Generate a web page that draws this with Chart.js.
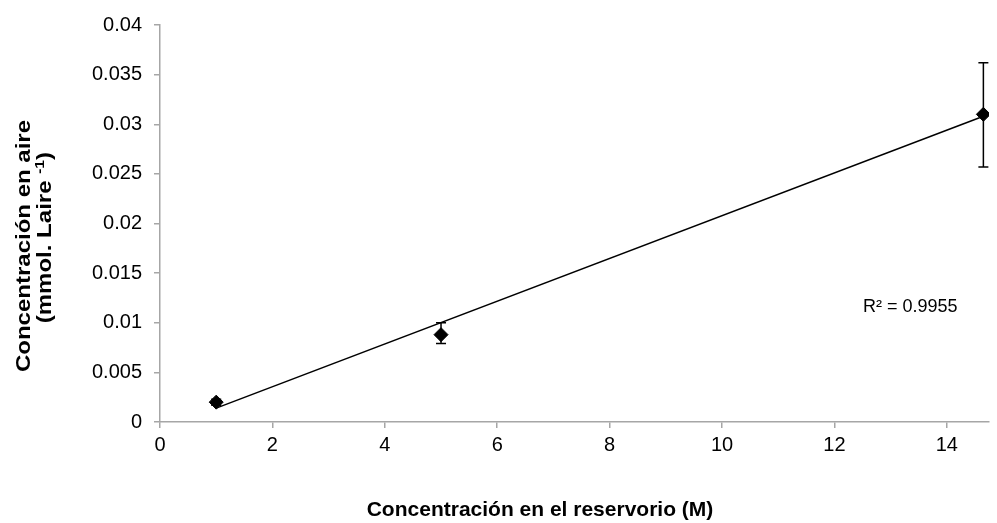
<!DOCTYPE html>
<html>
<head>
<meta charset="utf-8">
<script src="https://cdn.jsdelivr.net/npm/chart.js@4"></script>
<style>
  html, body { margin: 0; padding: 0; background: #fff; }
  #wrap { width: 997px; height: 523px; position: relative; }
</style>
</head>
<body>
<div id="wrap"><canvas id="chart"></canvas></div>
<script>
// Data
const reservoirConc = [1, 5, 14.65];          // M
const airConc = [0.0020, 0.0088, 0.0310];     // mmol. Laire-1
const errPlus = [0.0003, 0.0012, 0.0052];
const errMinus = [0.0003, 0.0009, 0.0053];
const trendX = [1, 14.65];
const trendY = [0.0014, 0.0308];
const rSquaredLabel = "R² = 0.9955";

const FONT = "'Liberation Sans', Arial, sans-serif";
const AXIS_GREY = "#a6a6a6";

// error bars + titles + R² text
const extrasPlugin = {
  id: "extras",
  afterDatasetsDraw(chart) {
    const ctx = chart.ctx;
    const xs = chart.scales.x, ys = chart.scales.y;
    ctx.save();
    ctx.strokeStyle = "#000";
    ctx.lineWidth = 1.5;
    reservoirConc.forEach((xv, i) => {
      const px = xs.getPixelForValue(xv);
      const top = ys.getPixelForValue(airConc[i] + errPlus[i]);
      const bot = ys.getPixelForValue(airConc[i] - errMinus[i]);
      ctx.beginPath();
      ctx.moveTo(px, top); ctx.lineTo(px, bot);
      ctx.moveTo(px - 5, top); ctx.lineTo(px + 5, top);
      ctx.moveTo(px - 5, bot); ctx.lineTo(px + 5, bot);
      ctx.stroke();
    });

    // R² label
    ctx.fillStyle = "#000";
    ctx.font = "18px " + FONT;
    ctx.textAlign = "left";
    ctx.textBaseline = "middle";
    ctx.fillText(rSquaredLabel, 863, 307);

    // x title
    ctx.font = "bold 21px " + FONT;
    ctx.textAlign = "center";
    ctx.textBaseline = "alphabetic";
    ctx.fillText("Concentración en el reservorio (M)", 540, 516);

    // y title (two lines, rotated, with superscript)
    ctx.save();
    ctx.translate(0, 246);
    ctx.rotate(-Math.PI / 2);
    ctx.scale(1.2, 1);
    ctx.font = "bold 20px " + FONT;
    ctx.textAlign = "center";
    ctx.fillText("Concentración en aire", 0, 30);
    const a = "(mmol. Laire ", sup = "-1", b = ")";
    const wa = ctx.measureText(a).width;
    const wb = ctx.measureText(b).width;
    ctx.font = "bold 13px " + FONT;
    const ws = ctx.measureText(sup).width;
    const total = wa + ws + wb;
    const x0 = -total / 2 + 7;
    ctx.textAlign = "left";
    ctx.font = "bold 20px " + FONT;
    ctx.fillText(a, x0, 51);
    ctx.font = "bold 13px " + FONT;
    ctx.fillText(sup, x0 + wa, 44);
    ctx.font = "bold 20px " + FONT;
    ctx.fillText(b, x0 + wa + ws, 51);
    ctx.restore();
    ctx.restore();
  }
};

const ctx = document.getElementById("chart").getContext("2d");
new Chart(ctx, {
  type: "scatter",
  data: {
    datasets: [
      {
        label: "trend",
        type: "line",
        data: trendX.map((x, i) => ({ x: x, y: trendY[i] })),
        borderColor: "#000",
        borderWidth: 1.5,
        pointRadius: 0,
        fill: false,
        order: 2
      },
      {
        label: "data",
        data: reservoirConc.map((x, i) => ({ x: x, y: airConc[i] })),
        pointStyle: "rectRot",
        pointRadius: 7,
        pointHoverRadius: 7,
        backgroundColor: "#000",
        borderColor: "#000",
        order: 1
      }
    ]
  },
  options: {
    responsive: true,
    maintainAspectRatio: false,
    animation: false,
    devicePixelRatio: 1,
    layout: { padding: { top: 25, right: 3, left: 0, bottom: 0 } },
    plugins: { legend: { display: false }, tooltip: { enabled: false } },
    scales: {
      x: {
        type: "linear",
        min: 0,
        max: 14.75,
        grid: { drawOnChartArea: false, drawTicks: true, tickLength: 6, color: AXIS_GREY, lineWidth: 1.5 },
        border: { color: AXIS_GREY, width: 1.5 },
        ticks: {
          stepSize: 2,
          includeBounds: false,
          color: "#000",
          padding: 5,
          maxRotation: 0,
          font: { family: FONT, size: 20 }
        },
        afterFit(scale) { scale.height = 101; }
      },
      y: {
        type: "linear",
        min: 0,
        max: 0.04,
        grid: { drawOnChartArea: false, drawTicks: true, tickLength: 6, color: AXIS_GREY, lineWidth: 1.5 },
        border: { color: AXIS_GREY, width: 1.5 },
        ticks: {
          stepSize: 0.005,
          color: "#000",
          padding: 12,
          font: { family: FONT, size: 20 },
          callback: v => String(Number(v.toFixed(4)))
        },
        afterFit(scale) { scale.width = 160; }
      }
    }
  },
  plugins: [extrasPlugin]
});
</script>
</body>
</html>
